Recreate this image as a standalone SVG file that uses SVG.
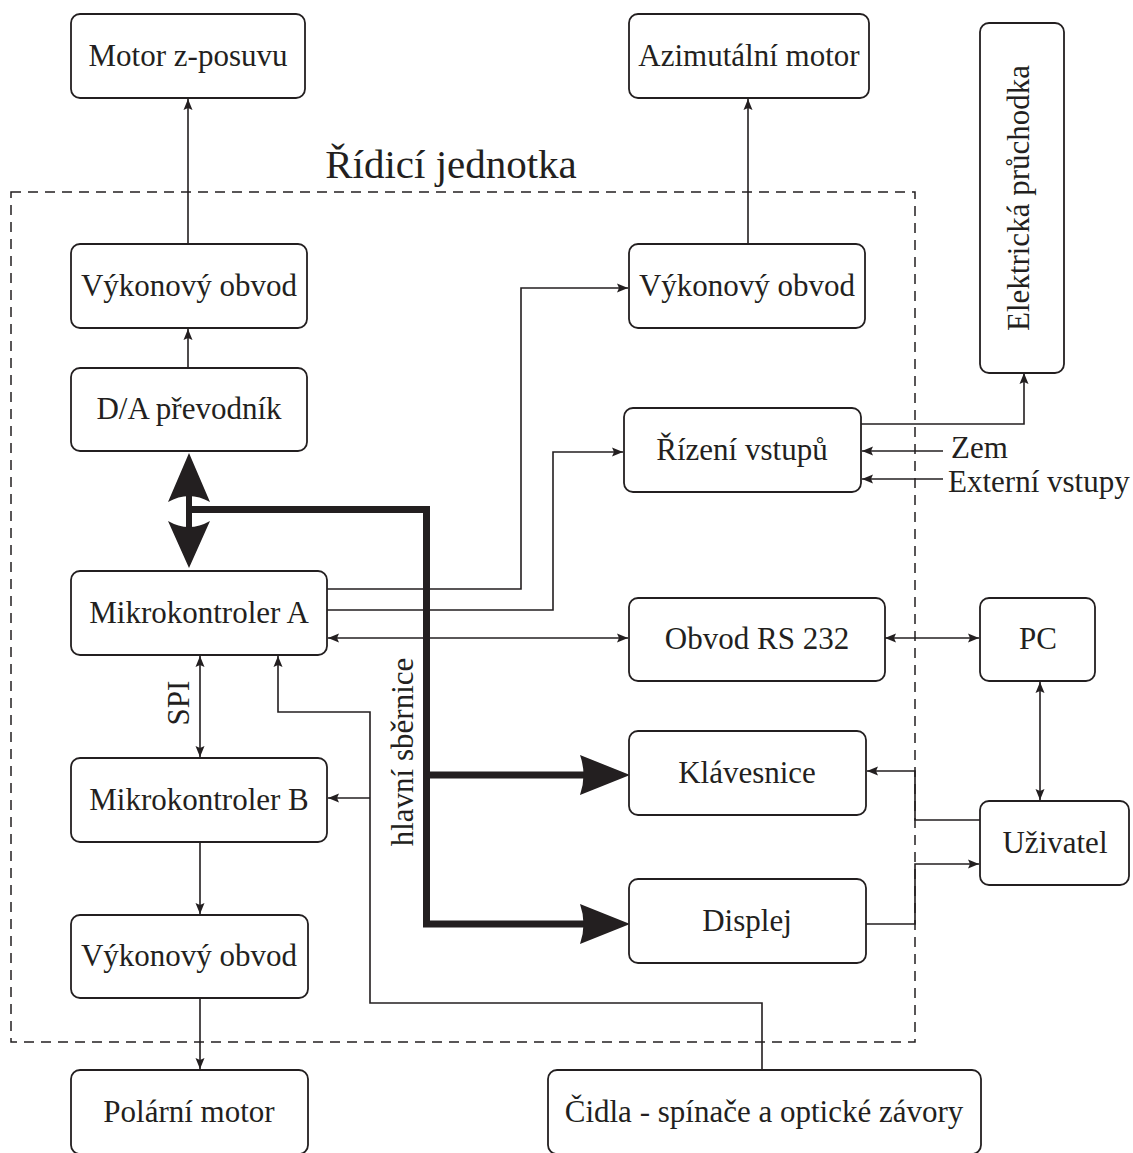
<svg xmlns="http://www.w3.org/2000/svg" width="1133" height="1153" viewBox="0 0 1133 1153">
<defs>
<style>
.box{fill:#fff;stroke:#231f20;stroke-width:1.8}
.t{font-family:"Liberation Serif","Times New Roman",serif;font-size:31px;fill:#231f20;text-anchor:middle}
.ln{fill:none;stroke:#231f20;stroke-width:1.6}
.bus{fill:none;stroke:#231f20;stroke-width:7;stroke-linejoin:miter}
.head{fill:#231f20}
</style>
<marker id="ae" markerUnits="userSpaceOnUse" markerWidth="14" markerHeight="12" viewBox="-12 -6 14 12" refX="0" refY="0" orient="auto">
<path d="M0,0 L-11,-4.5 L-9,0 L-11,4.5 Z" fill="#231f20"/>
</marker>
<marker id="as" markerUnits="userSpaceOnUse" markerWidth="14" markerHeight="12" viewBox="-12 -6 14 12" refX="0" refY="0" orient="auto-start-reverse">
<path d="M0,0 L-11,-4.5 L-9,0 L-11,4.5 Z" fill="#231f20"/>
</marker>
</defs>
<rect width="1133" height="1153" fill="#fff"/>

<g id="unit">
<rect x="11" y="192" width="904" height="850" fill="none" stroke="#231f20" stroke-width="1.5" stroke-dasharray="10 7"/>
<text x="451" y="178" font-family="'Liberation Serif','Times New Roman',serif" font-size="41" fill="#231f20" text-anchor="middle">Řídicí jednotka</text>
</g>

<g id="connectors">
<path class="ln" d="M188,244 V99" marker-end="url(#ae)"/>
<path class="ln" d="M188,368 V329" marker-end="url(#ae)"/>
<path class="ln" d="M748,244 V99" marker-end="url(#ae)"/>
<path class="ln" d="M327,589 H521 V288 H628" marker-end="url(#ae)"/>
<path class="ln" d="M327,610 H553 V452 H623" marker-end="url(#ae)"/>
<path class="ln" d="M328,638 H628" marker-start="url(#as)" marker-end="url(#ae)"/>
<path class="ln" d="M885,638 H979" marker-start="url(#as)" marker-end="url(#ae)"/>
<path class="ln" d="M1040,682 V800" marker-start="url(#as)" marker-end="url(#ae)"/>
<path class="ln" d="M861,424 H1024 V373" marker-end="url(#ae)"/>
<path class="ln" d="M943,451 H862" marker-end="url(#ae)"/>
<path class="ln" d="M943,479 H862" marker-end="url(#ae)"/>
<path class="ln" d="M980,820 H915 V771 H867" marker-end="url(#ae)"/>
<path class="ln" d="M866,924 H915 V864 H979" marker-end="url(#ae)"/>
<path class="ln" d="M200,656 V757" marker-start="url(#as)" marker-end="url(#ae)"/>
<path class="ln" d="M762,1070 V1003 H370 V712 H278 V656" marker-end="url(#ae)"/>
<path class="ln" d="M370,798 H328" marker-end="url(#ae)"/>
<path class="ln" d="M200,842 V914" marker-end="url(#ae)"/>
<path class="ln" d="M200,998 V1069" marker-end="url(#ae)"/>
<text class="t" transform="translate(189,703) rotate(-90)">SPI</text>
<text class="t" transform="translate(413,752) rotate(-90)">hlavní sběrnice</text>
<text x="951" y="458" font-family="'Liberation Serif','Times New Roman',serif" font-size="31" fill="#231f20">Zem</text>
<text x="948" y="492" font-family="'Liberation Serif','Times New Roman',serif" font-size="31" fill="#231f20">Externí vstupy</text>
</g>

<g id="bus">
<rect x="186" y="494" width="6" height="34" fill="#231f20"/>
<path class="head" d="M189,453 L210,502 Q189,490 168,502 Z"/>
<path class="head" d="M189,568 L168,521 Q189,533 210,521 Z"/>
<path class="bus" d="M189,509.5 H426.5 V924 H586"/>
<path class="bus" d="M426.5,775 H586"/>
<path class="head" d="M630,775 L580,755 Q587,775 580,795 Z"/>
<path class="head" d="M630,924 L580,904 Q587,924 580,944 Z"/>
</g>

<g id="motor-z"><rect class="box" x="71" y="14" width="234" height="84" rx="9"/><text class="t" x="188" y="66">Motor z-posuvu</text></g>
<g id="azimut-motor"><rect class="box" x="629" y="14" width="240" height="84" rx="9"/><text class="t" x="749" y="66">Azimutální motor</text></g>
<g id="pruchodka"><rect class="box" x="980" y="23" width="84" height="350" rx="9"/><text class="t" transform="translate(1029,198) rotate(-90)">Elektrická průchodka</text></g>
<g id="vykon-z"><rect class="box" x="71" y="244" width="236" height="84" rx="9"/><text class="t" x="189" y="296">Výkonový obvod</text></g>
<g id="vykon-az"><rect class="box" x="629" y="244" width="236" height="84" rx="9"/><text class="t" x="747" y="296">Výkonový obvod</text></g>
<g id="da"><rect class="box" x="71" y="368" width="236" height="83" rx="9"/><text class="t" x="189" y="419">D/A převodník</text></g>
<g id="rizeni"><rect class="box" x="624" y="408" width="237" height="84" rx="9"/><text class="t" x="742" y="460">Řízení vstupů</text></g>
<g id="mka"><rect class="box" x="71" y="571" width="256" height="84" rx="9"/><text class="t" x="199" y="623">Mikrokontroler A</text></g>
<g id="rs232"><rect class="box" x="629" y="598" width="256" height="83" rx="9"/><text class="t" x="757" y="649">Obvod RS 232</text></g>
<g id="pc"><rect class="box" x="980" y="598" width="115" height="83" rx="9"/><text class="t" x="1038" y="649">PC</text></g>
<g id="klavesnice"><rect class="box" x="629" y="731" width="237" height="84" rx="9"/><text class="t" x="747" y="783">Klávesnice</text></g>
<g id="mkb"><rect class="box" x="71" y="758" width="256" height="84" rx="9"/><text class="t" x="199" y="810">Mikrokontroler B</text></g>
<g id="uzivatel"><rect class="box" x="980" y="801" width="149" height="84" rx="9"/><text class="t" x="1055" y="853">Uživatel</text></g>
<g id="displej"><rect class="box" x="629" y="879" width="237" height="84" rx="9"/><text class="t" x="747" y="931">Displej</text></g>
<g id="vykon-pol"><rect class="box" x="71" y="915" width="237" height="83" rx="9"/><text class="t" x="189" y="966">Výkonový obvod</text></g>
<g id="polarni"><rect class="box" x="71" y="1070" width="237" height="84" rx="9"/><text class="t" x="189" y="1122">Polární motor</text></g>
<g id="cidla"><rect class="box" x="548" y="1070" width="433" height="84" rx="9"/><text class="t" x="764" y="1122">Čidla - spínače a optické závory</text></g>
</svg>
